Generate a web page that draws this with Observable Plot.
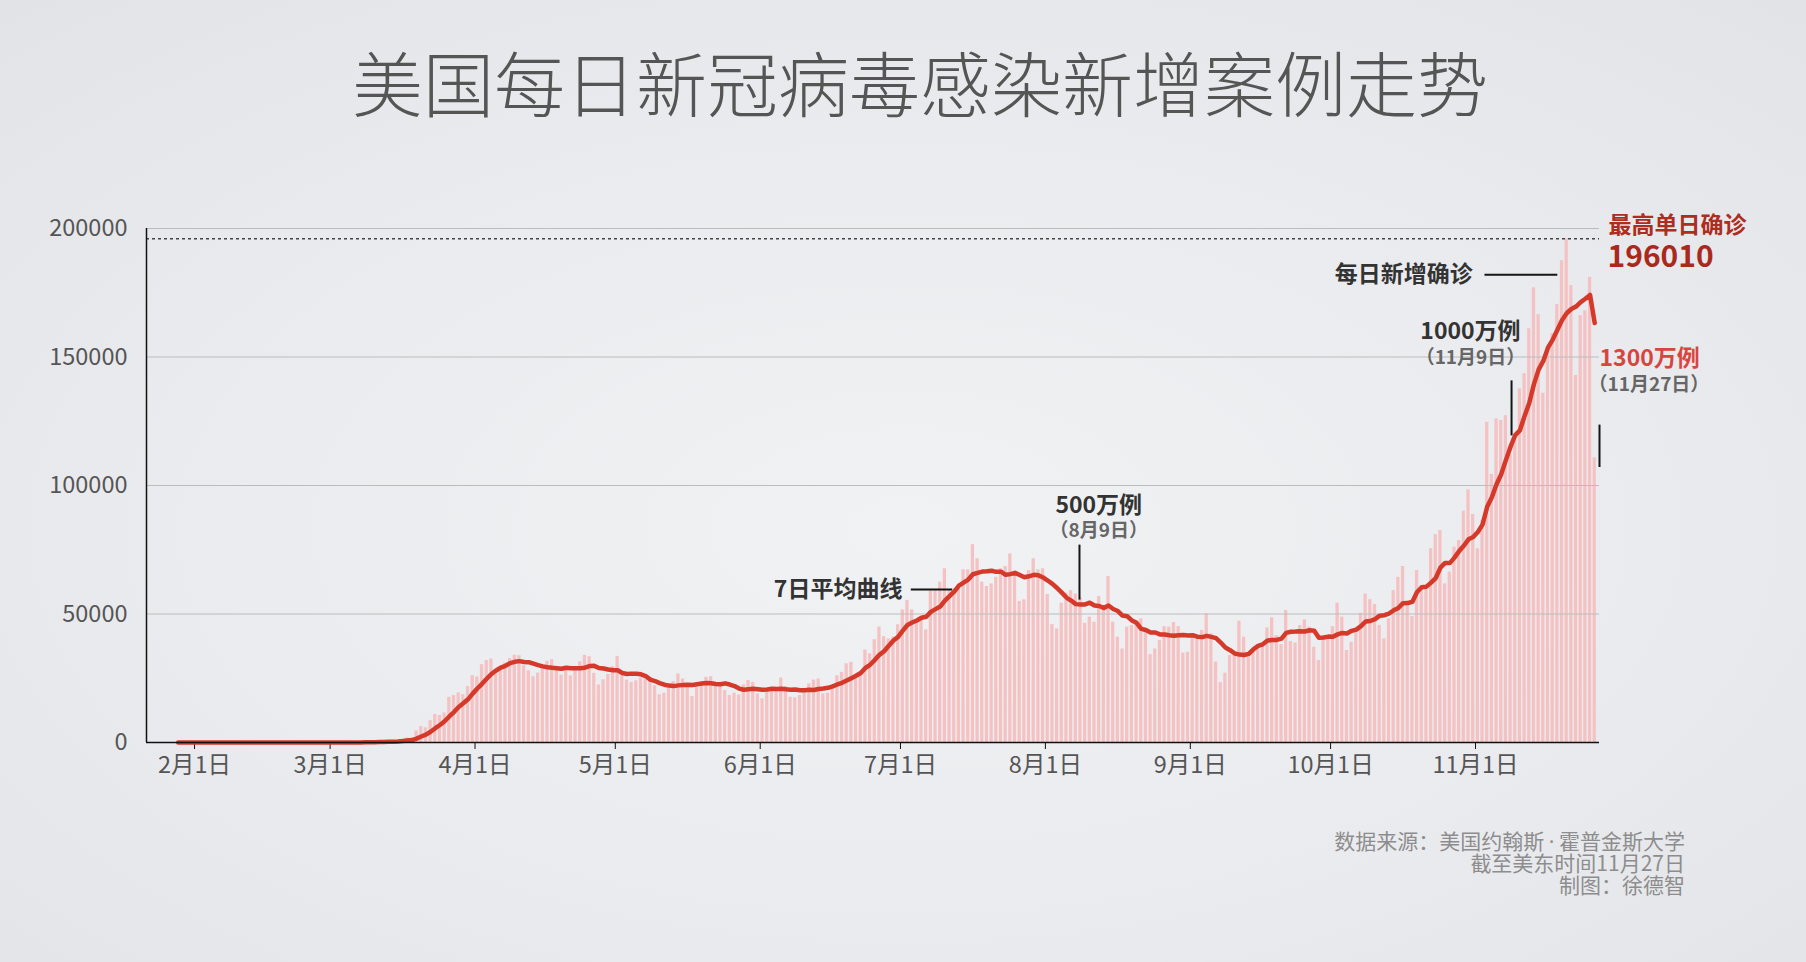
<!DOCTYPE html>
<html>
<head>
<meta charset="utf-8">
<script src="https://cdn.jsdelivr.net/npm/d3@7"></script>
<script src="https://cdn.jsdelivr.net/npm/@observablehq/plot@0.6"></script>
<style>
  html, body { margin: 0; padding: 0; }
  body {
    width: 1806px; height: 962px; position: relative; overflow: hidden;
    background: radial-gradient(ellipse 75% 75% at 50% 55%, #f1f2f4 0%, #eaebee 55%, #e1e3e7 100%);
    font-family: "Noto Sans CJK SC", "Noto Sans", sans-serif;
  }
  #title {
    position: absolute; top: 45px; left: 17px; width: 1806px; text-align: center;
    font-size: 71px; line-height: 71px; font-weight: 300; color: #555;
  }
  #chart { position: absolute; top: 160px; left: 0; }
  .foot {
    position: absolute; right: 121px; text-align: right; white-space: nowrap;
    font-size: 21px; line-height: 21px; height: 21px; color: #8d8d8d; font-weight: 400;
  }
  .foot .dot { font-family: "DejaVu Sans", sans-serif; padding: 0 4px; }
  #chart svg g[aria-label="x-axis tick"] path { stroke: #111; }
</style>
</head>
<body>
<div id="title">美国每日新冠病毒感染新增案例走势</div>
<div id="chart"></div>
<div class="foot" style="top:830px">数据来源：美国约翰斯<span class="dot">·</span>霍普金斯大学</div>
<div class="foot" style="top:852px">截至美东时间11月27日</div>
<div class="foot" style="top:874px">制图：徐德智</div>
<script>
// Daily new confirmed cases (JHU), Jan 22 – Nov 26, 2020
const jan = [1,0,1,0,3,0,0,0,0,2]; // from Jan 22
const feb = [1,0,3,0,0,1,0,0,0,0,1,0,1,0,0,0,0,0,0,0,2,0,0,36,0,0,1,1,8];
const mar = [6,23,20,31,68,45,140,116,65,376,322,382,516,548,772,1133,1789,1362,4500,6200,5700,8500,10900,10500,11500,17600,18300,19300,18600,21800,26000];
const apr = [25500,30300,31900,32500,28200,29600,30900,32700,34000,33800,29900,27900,25600,27000,29200,31600,32200,29000,26200,28300,25900,29000,31400,33900,33400,26900,22400,24400,26500,29500];
const may = [33500,26000,24300,23400,24000,25100,24700,23800,22100,18600,19200,21500,23700,26700,24700,22800,17900,21500,23300,25400,25600,23000,22100,20200,18300,19200,18500,22400,24100,23400,18900];
const jun = [17000,19900,20800,21500,25100,21800,17600,17400,18300,20800,22800,24300,24700,18900,19200,22100,26000,27300,30600,31200,25400,26700,36000,34500,40000,44900,41200,40300,41000,45800];
const jul = [51600,55300,51600,46800,47500,43800,59100,59100,62400,67600,59100,59800,60400,67200,67200,77000,71500,62400,60700,61700,64300,67600,68500,73400,65900,54900,55500,66900,71500,67200,67600];
const aug = [57600,45900,44200,54200,58100,59100,57800,56300,46400,48800,46800,56800,53300,64600,46800,41000,36400,44900,45500,46800,48100,43600,34200,36400,39700,45100,44900,46700,45100,34800,35100];
const sep = [40700,41000,43600,50100,42300,31300,23300,27000,33900,34500,47200,41000,34500,35800,36400,38100,44600,48500,41600,38100,51400,39300,38700,45500,47700,44900,37100,31900,40300,41000];
const oct = [45100,54200,48800,35800,39000,43600,50300,57800,55600,53700,45500,40300,48100,59100,64300,68500,54000,49000,66900,61100,60700,75400,80900,82500,61700,66300,76000,78600,90000,98300,88700];
const nov = [75400,86400,124600,104300,125900,125300,127200,112000,118000,137600,143500,161000,176900,166500,135900,154000,159000,170400,187500,196010,177800,142800,166100,168000,181000,110800];

const firstDay = "2020-01-22";
const yTicks = [0, 50000, 100000, 150000, 200000];
const xTickDates = ["2020-02-01","2020-03-01","2020-04-01","2020-05-01","2020-06-01","2020-07-01","2020-08-01","2020-09-01","2020-10-01","2020-11-01"];
const peakValue = 196010;

// annotations (anchors in data coordinates)
const boldEndLabels = [
  {text: "每日新增确诊", date: "2020-10-31T10:00Z", value: 182000},
  {text: "7日平均曲线", date: "2020-07-01T10:00Z", value: 59500}
];
const boldMidLabels = [
  {text: "500万例", date: "2020-08-12T10:00Z", value: 92300},
  {text: "1000万例", date: "2020-10-30T22:00Z", value: 159700}
];
const dateMidLabels = [
  {text: "（8月9日）", date: "2020-08-12T10:00Z", value: 82500},
  {text: "（11月9日）", date: "2020-10-30T22:00Z", value: 149800}
];
const dateStartLabels = [{text: "（11月27日）", date: "2020-11-27T12:30Z", value: 139300}];
const redLabels = [{text: "1300万例", date: "2020-11-27T12:30Z", value: 149300}];
const peakLabels = [{text: "最高单日确诊", date: "2020-11-27T12:30Z", value: 201200}];
const peakNumber = [{text: String(peakValue), date: "2020-11-27T12:30Z", value: 188600}];
const pointers = [
  {x1: "2020-11-02T22:00Z", x2: "2020-11-18T12:00Z", y1: 182000, y2: 182000},
  {x1: "2020-07-03T05:00Z", x2: "2020-07-12T01:00Z", y1: 59500, y2: 59500},
  {x1: "2020-08-08T07:00Z", x2: "2020-08-08T07:00Z", y1: 77000, y2: 55600},
  {x1: "2020-11-08T17:00Z", x2: "2020-11-08T17:00Z", y1: 140900, y2: 119500},
  {x1: "2020-11-27T12:30Z", x2: "2020-11-27T12:30Z", y1: 123700, y2: 107200}
];

const values = [...jan, ...feb, ...mar, ...apr, ...may, ...jun, ...jul, ...aug, ...sep, ...oct, ...nov];
const start = new Date(firstDay + "T00:00Z");
const data = values.map((v, i) => {
  const date = d3.utcDay.offset(start, i);
  return {date, next: d3.utcDay.offset(date, 1), mid: d3.utcHour.offset(date, 12), cases: v};
});
const D = s => new Date(s);
const xDomain = [D("2020-01-21T17:30Z"), D("2020-11-27T12:30Z")];
const tx = d => D(d.date);

const plot = Plot.plot({
  width: 1806,
  height: 640,
  marginLeft: 146,
  marginRight: 207,
  marginTop: 68,
  marginBottom: 58,
  style: {background: "transparent", fontFamily: "'Noto Sans CJK SC', sans-serif", fontSize: "23.5px", color: "#555", overflow: "visible"},
  x: {type: "utc", domain: xDomain, ticks: xTickDates.map(s => D(s + "T00:00Z")), tickFormat: d => `${d.getUTCMonth() + 1}月1日`, tickSize: 7, tickPadding: 7, label: null},
  y: {domain: [0, 200000], ticks: yTicks, tickSize: 0, tickPadding: 19, tickFormat: d => String(d), label: null},
  marks: [
    Plot.rectY(data, {x1: "date", x2: "next", y: "cases", fill: "#f5c2c3", insetLeft: 0.7, insetRight: 0.7}),
    Plot.ruleY(yTicks.slice(1), {stroke: "#bcbcbc", strokeWidth: 1}),
    Plot.ruleY([peakValue], {stroke: "#444", strokeWidth: 1.3, strokeDasharray: "3,3"}),
    Plot.lineY(data, Plot.windowY({k: 7, anchor: "end", strict: true}, {x: "mid", y: "cases", stroke: "#d5392a", strokeWidth: 4.5, strokeLinejoin: "round"})),
    Plot.ruleY([0], {stroke: "#111", strokeWidth: 1.5}),
    Plot.ruleX([xDomain[0]], {y1: 0, y2: 200000, stroke: "#111", strokeWidth: 1.5}),
    Plot.link(pointers, {x1: d => D(d.x1), x2: d => D(d.x2), y1: "y1", y2: "y2", stroke: "#151515", strokeWidth: 2}),
    Plot.text(boldEndLabels, {x: tx, y: "value", text: "text", textAnchor: "end", lineAnchor: "middle", fontSize: 23, fontWeight: "bold", fill: "#333"}),
    Plot.text(boldMidLabels, {x: tx, y: "value", text: "text", textAnchor: "middle", lineAnchor: "middle", fontSize: 23, fontWeight: "bold", fill: "#333"}),
    Plot.text(dateMidLabels, {x: tx, y: "value", text: "text", textAnchor: "middle", lineAnchor: "middle", fontSize: 19, fontWeight: "bold", fill: "#666"}),
    Plot.text(dateStartLabels, {x: tx, y: "value", text: "text", textAnchor: "start", lineAnchor: "middle", fontSize: 19, fontWeight: "bold", fill: "#666", dx: -11}),
    Plot.text(redLabels, {x: tx, y: "value", text: "text", textAnchor: "start", lineAnchor: "middle", fontSize: 23, fontWeight: "bold", fill: "#d8453f"}),
    Plot.text(peakLabels, {x: tx, y: "value", text: "text", textAnchor: "start", lineAnchor: "middle", fontSize: 23, fontWeight: "bold", fill: "#ad2d1f", dx: 9}),
    Plot.text(peakNumber, {x: tx, y: "value", text: "text", textAnchor: "start", lineAnchor: "middle", fontSize: 30, fontWeight: "bold", fill: "#a92a1c", dx: 8})
  ]
});
document.getElementById("chart").appendChild(plot);
</script>
</body>
</html>
